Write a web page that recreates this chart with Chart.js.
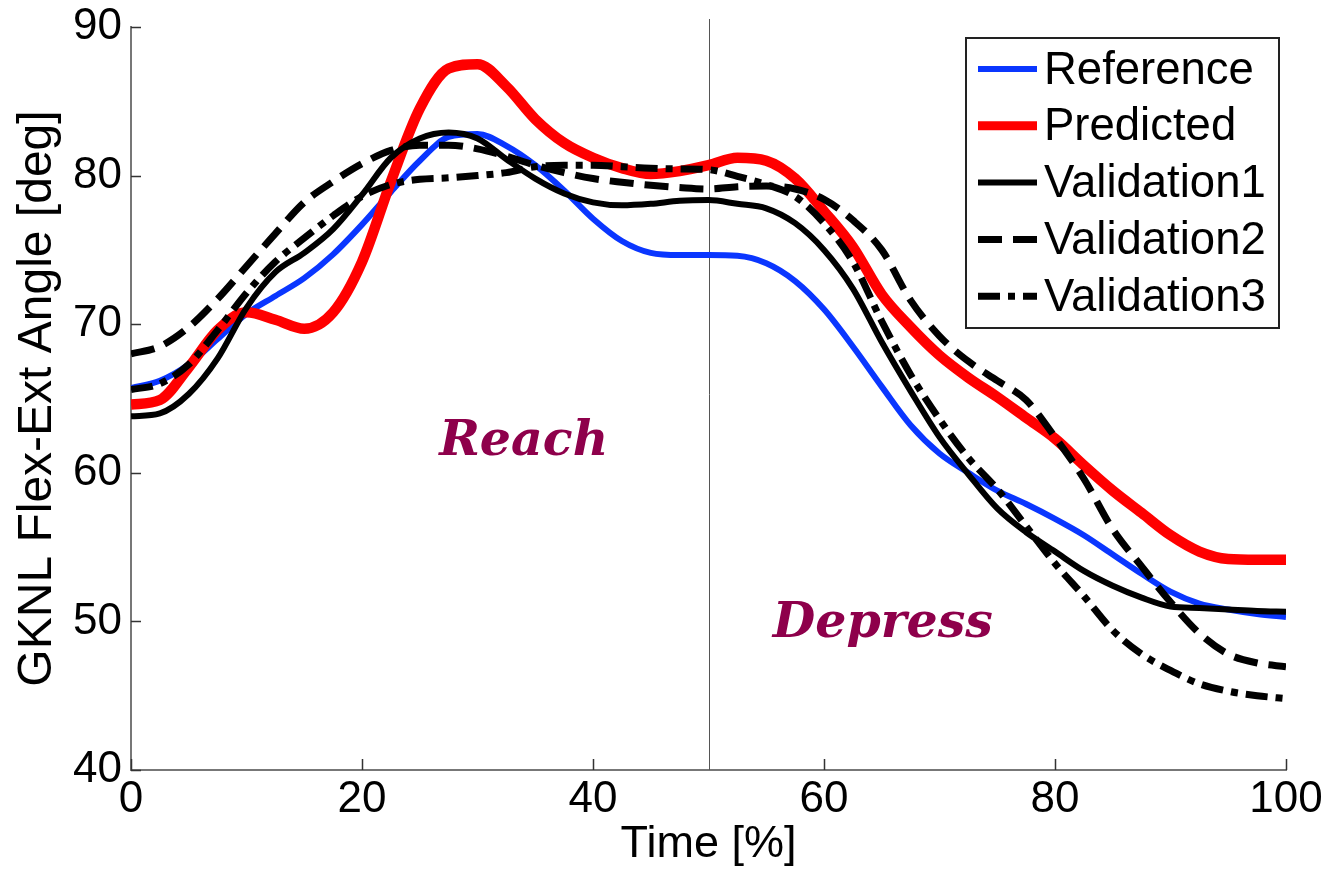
<!DOCTYPE html>
<html>
<head>
<meta charset="utf-8">
<title>GKNL Flex-Ext Angle</title>
<script src="https://cdn.jsdelivr.net/npm/chart.js@4.4.1/dist/chart.umd.min.js"></script>
<style>
    html, body { margin: 0; padding: 0; background: #fff; }
</style>
</head>
<body>
<canvas id="angleChart" width="1330" height="874"></canvas>
<script>
// values, one sample every 2.5 %
const timePct = [0, 2.5, 5, 7.5, 10, 12.5, 15, 17.5, 20, 22.5, 25, 27.5, 30, 32.5, 35, 37.5, 40, 42.5, 45, 47.5,
    50, 52.5, 55, 57.5, 60, 62.5, 65, 67.5, 70, 72.5, 75, 77.5, 80, 82.5, 85, 87.5, 90, 92.5, 95, 97.5, 100];

const reference = [65.7, 66.2, 67.3, 69.0, 70.7, 71.9, 73.1, 74.7, 76.7, 78.9, 81.0, 82.6, 82.8, 82.0, 80.7, 79.0,
    77.1, 75.6, 74.8, 74.65, 74.65, 74.6, 74.1, 72.9, 71.0, 68.5, 65.8, 63.2, 61.3, 60.0, 58.8, 57.9, 56.9, 55.8,
    54.5, 53.2, 52.0, 51.2, 50.8, 50.5, 50.3];

const predicted = [64.6, 64.9, 67.1, 69.6, 70.8, 70.3, 69.7, 70.8, 74.2, 79.6, 84.5, 87.2, 87.5, 86.0, 83.8, 82.2,
    81.2, 80.5, 80.1, 80.3, 80.7, 81.2, 81.0, 79.8, 77.6, 75.2, 72.0, 69.8, 67.9, 66.4, 65.1, 63.7, 62.3, 60.5,
    58.8, 57.3, 55.8, 54.7, 54.2, 54.15, 54.15];

const validation1 = [63.8, 64.0, 65.3, 67.7, 71.1, 73.5, 74.8, 76.4, 78.7, 81.2, 82.5, 82.9, 82.5, 81.1, 79.8, 78.8,
    78.2, 78.0, 78.1, 78.3, 78.35, 78.1, 77.8, 76.8, 75.0, 72.4, 68.8, 65.5, 62.4, 59.9, 57.6, 56.0, 54.7, 53.4,
    52.4, 51.6, 51.0, 50.9, 50.8, 50.7, 50.65];

const validation2 = [68.0, 68.5, 69.8, 71.7, 73.9, 76.1, 78.2, 79.6, 80.8, 81.7, 82.05, 82.05, 81.8, 81.3, 80.7, 80.2,
    79.8, 79.55, 79.35, 79.2, 79.1, 79.25, 79.3, 79.1, 78.4, 77.0, 75.0, 71.6, 69.2, 67.5, 66.2, 64.9, 62.4, 59.6,
    56.2, 53.7, 51.3, 49.2, 47.8, 47.2, 46.95];

const validation3 = [65.6, 66.0, 67.3, 69.6, 72.1, 74.2, 75.8, 77.3, 78.6, 79.4, 79.75, 79.85, 80.0, 80.2, 80.6, 80.7,
    80.7, 80.6, 80.5, 80.45, 80.4, 79.95, 79.4, 78.6, 76.8, 74.2, 70.2, 66.6, 63.6, 61.0, 58.9, 56.4, 53.9, 51.7,
    49.4, 47.8, 46.7, 45.8, 45.3, 45.0, 44.8];

const xTicks = [0, 20, 40, 60, 80, 100];
const yTicks = [40, 50, 60, 70, 80, 90];
const phaseSplit = 50;
const phaseLabels = [
    {text: 'Reach', x: 34.0, y: 61.2},
    {text: 'Depress', x: 65.1, y: 48.95}
];

const fontFamily = '"Liberation Sans", Arial, sans-serif';

function toPoints(values) {
    return values.map((v, i) => ({x: timePct[i], y: v}));
}

function series(label, values, color, width, dash, order) {
    return {
        label: label,
        data: toPoints(values),
        borderColor: color,
        backgroundColor: color,
        borderWidth: width,
        borderDash: dash,
        pointRadius: 0,
        fill: false,
        cubicInterpolationMode: 'monotone',
        order: order
    };
}

// phase boundary line, under the curves
const phaseLine = {
    id: 'phaseLine',
    beforeDatasetsDraw(chart) {
        const ctx = chart.ctx;
        const px = Math.round(chart.scales.x.getPixelForValue(phaseSplit)) + 0.5;
        ctx.save();
        ctx.strokeStyle = '#555';
        ctx.lineWidth = 1;
        ctx.beginPath();
        ctx.moveTo(px, chart.chartArea.top - 8);
        ctx.lineTo(px, chart.chartArea.bottom);
        ctx.stroke();
        ctx.restore();
    }
};

// matlab style: inward ticks, in-plot legend box, phase text
const figureExtras = {
    id: 'figureExtras',
    afterDatasetsDraw(chart) {
        const ctx = chart.ctx;
        const xs = chart.scales.x, ys = chart.scales.y;
        const area = chart.chartArea;
        ctx.save();

        // inward tick marks
        ctx.strokeStyle = '#333';
        ctx.lineWidth = 1.5;
        ctx.beginPath();
        yTicks.forEach(v => {
            const py = Math.round(ys.getPixelForValue(v)) + 0.5;
            ctx.moveTo(area.left, py);
            ctx.lineTo(area.left + 10, py);
        });
        xTicks.forEach(v => {
            const px = Math.round(xs.getPixelForValue(v)) + 0.5;
            ctx.moveTo(px, area.bottom);
            ctx.lineTo(px, area.bottom - 11);
        });
        ctx.stroke();

        // phase labels
        ctx.fillStyle = '#8e004b';
        ctx.font = 'italic bold 49px "DejaVu Serif", serif';
        ctx.textAlign = 'center';
        ctx.textBaseline = 'alphabetic';
        phaseLabels.forEach(p => {
            ctx.fillText(p.text, xs.getPixelForValue(p.x), ys.getPixelForValue(p.y));
        });

        // legend
        const sets = chart.data.datasets.filter(d => d.label);
        const boxLeft = area.right - 320, boxTop = area.top + 11;
        const boxW = 313, boxH = 290;
        ctx.fillStyle = '#fff';
        ctx.fillRect(boxLeft, boxTop, boxW, boxH);
        ctx.strokeStyle = '#222';
        ctx.lineWidth = 2;
        ctx.setLineDash([]);
        ctx.strokeRect(boxLeft, boxTop, boxW, boxH);

        ctx.font = '45.5px ' + fontFamily;
        ctx.textAlign = 'left';
        ctx.textBaseline = 'middle';
        sets.forEach((d, i) => {
            const cy = boxTop + 31 + i * 56.8;
            ctx.strokeStyle = d.borderColor;
            ctx.lineWidth = Math.min(d.borderWidth, 9);
            ctx.setLineDash(d.borderDash);
            ctx.beginPath();
            ctx.moveTo(boxLeft + 12, cy);
            ctx.lineTo(boxLeft + 71, cy);
            ctx.stroke();
            ctx.setLineDash([]);
            ctx.fillStyle = '#000';
            ctx.fillText(d.label, boxLeft + 78, cy + 2);
        });
        ctx.restore();
    }
};

new Chart(document.getElementById('angleChart'), {
    type: 'line',
    data: {
        datasets: [
            series('Reference', reference, '#0a36ff', 6, [], 5),
            series('Predicted', predicted, '#ff0000', 10.5, [], 4),
            series('Validation1', validation1, '#000000', 6, [], 3),
            series('Validation2', validation2, '#000000', 7, [24, 11], 2),
            series('Validation3', validation3, '#000000', 7, [22, 8, 7, 8], 1)
        ]
    },
    options: {
        responsive: false,
        animation: false,
        devicePixelRatio: 1,
        layout: {
            padding: {top: 27, right: 44, left: 0, bottom: 0}
        },
        scales: {
            x: {
                type: 'linear',
                min: 0,
                max: 100,
                afterFit: scale => {
                    scale.height = 104;
                    scale.paddingLeft = 0;
                    scale.paddingRight = 0;
                },
                afterBuildTicks: scale => { scale.ticks = xTicks.map(v => ({value: v})); },
                grid: {display: false, drawTicks: false},
                border: {display: true, color: '#777', width: 2},
                ticks: {
                    color: '#000',
                    padding: 8,
                    maxRotation: 0,
                    font: {family: fontFamily, size: 44, lineHeight: 1}
                },
                title: {
                    display: true,
                    text: 'Time [%]',
                    color: '#000',
                    padding: {top: 0, bottom: 2},
                    font: {family: fontFamily, size: 45}
                }
            },
            y: {
                min: 40,
                max: 90,
                afterFit: scale => {
                    scale.width = 131;
                    scale.paddingTop = 0;
                    scale.paddingBottom = 0;
                },
                afterBuildTicks: scale => { scale.ticks = yTicks.map(v => ({value: v})); },
                grid: {display: false, drawTicks: false},
                border: {display: true, color: '#777', width: 2},
                ticks: {
                    color: '#000',
                    padding: 9,
                    font: {family: fontFamily, size: 44}
                },
                title: {
                    display: true,
                    text: 'GKNL Flex-Ext Angle [deg]',
                    color: '#000',
                    padding: {top: 9, bottom: 0},
                    font: {family: fontFamily, size: 48}
                }
            }
        },
        plugins: {
            legend: {display: false},
            tooltip: {enabled: false}
        }
    },
    plugins: [phaseLine, figureExtras]
});
</script>
</body>
</html>
